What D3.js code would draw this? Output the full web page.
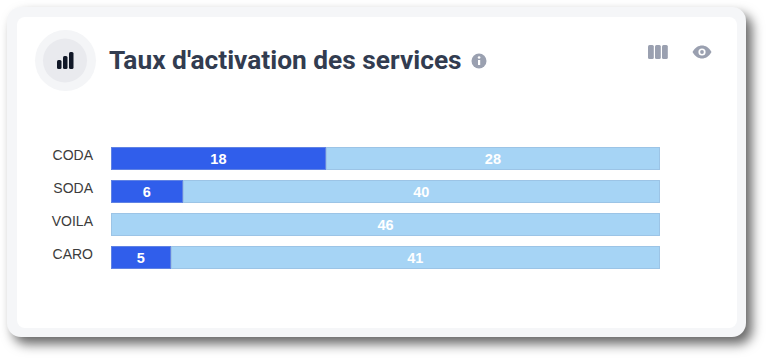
<!DOCTYPE html>
<html>
<head>
<meta charset="utf-8">
<script src="https://cdn.jsdelivr.net/npm/d3@7"></script>
<style>
  html, body { margin: 0; padding: 0; background: #fff; overflow: hidden; }
</style>
</head>
<body>
<div id="chart"></div>
<script>
const services = ["CODA", "SODA", "VOILA", "CARO"];
const activated = [18, 6, 0, 5];
const notActivated = [28, 40, 46, 41];

const wSvg = 769;
const hSvg = 360;

let svg = d3.select("#chart")
            .append("svg")
            .attr("width", wSvg)
            .attr("height", hSvg)
            .style("display", "block");

// card
svg.append("rect")
   .attr("x", 7).attr("y", 7)
   .attr("width", 739).attr("height", 330)
   .attr("rx", 14)
   .attr("fill", "#f5f6f8")
   .style("filter", "drop-shadow(6px 7px 6px rgba(0,0,0,0.6))");

svg.append("rect")
   .attr("x", 17).attr("y", 17)
   .attr("width", 720).attr("height", 311)
   .attr("rx", 8)
   .attr("fill", "#fff");

// round icon
svg.append("circle").attr("cx", 65.5).attr("cy", 60.5).attr("r", 30.5).attr("fill", "#f4f5f7");
svg.append("circle").attr("cx", 65).attr("cy", 60.5).attr("r", 22).attr("fill", "#e9eaee");
[[57, 4.5, 9], [63, 4.5, 13], [69, 4.5, 17]].forEach(b => {
  svg.append("rect")
     .attr("x", b[0]).attr("y", 69 - b[2])
     .attr("width", b[1]).attr("height", b[2])
     .attr("rx", 1.5)
     .attr("fill", "#111827");
});

// title
svg.append("text")
   .attr("x", 109).attr("y", 69)
   .attr("font-family", "Roboto")
   .attr("font-weight", 700)
   .attr("font-size", 26.3)
   .attr("fill", "#323c50")
   .text("Taux d'activation des services");

// info icon
svg.append("circle").attr("cx", 479).attr("cy", 61).attr("r", 7.5).attr("fill", "#9aa0b0");
svg.append("rect").attr("x", 478).attr("y", 60).attr("width", 2.2).attr("height", 5).attr("fill", "#fff");
svg.append("circle").attr("cx", 479.1).attr("cy", 57.5).attr("r", 1.3).attr("fill", "#fff");

// columns icon
[648, 655, 662].forEach(x => {
  svg.append("rect")
     .attr("x", x).attr("y", 45)
     .attr("width", 5.8).attr("height", 14)
     .attr("rx", 1.5)
     .attr("fill", "#9aa0b0");
});

// eye icon
svg.append("path")
   .attr("d", "M692.5,52 C695,47.5 698.5,45.5 702,45.5 C705.5,45.5 709,47.5 711.5,52 C709,56.5 705.5,58.5 702,58.5 C698.5,58.5 695,56.5 692.5,52 Z")
   .attr("fill", "#9aa0b0");
svg.append("circle").attr("cx", 702).attr("cy", 52).attr("r", 3.6).attr("fill", "#fff");
svg.append("circle").attr("cx", 702).attr("cy", 52).attr("r", 1.9).attr("fill", "#9aa0b0");

// scales
let xScale = d3.scaleLinear([0, 46], [111, 660]);
let yScale = d3.scaleBand(services, [147, 269]).paddingInner(0.29).paddingOuter(0);

// axis labels
let yAxis = svg.append("g")
   .attr("transform", "translate(111, -3)")
   .call(d3.axisLeft(yScale).tickSize(0).tickPadding(18));
yAxis.select(".domain").remove();
yAxis.selectAll("text")
     .attr("font-family", "Liberation Sans")
     .attr("font-size", 14)
     .attr("fill", "#3c3c3c");

// stacked bars, inset by half a pixel so the 1px border stays sharp
services.forEach((s, i) => {
  const a = activated[i];
  const b = notActivated[i];
  const top = Math.round(yScale(s));

  svg.append("rect")
     .attr("x", Math.round(xScale(a)) + 0.5).attr("y", top + 0.5)
     .attr("width", Math.round(xScale(a + b)) - Math.round(xScale(a)) - 1).attr("height", 22)
     .attr("fill", "#a6d4f5")
     .attr("stroke", "#9cc4e6").attr("stroke-width", 1);

  if (a > 0) {
    svg.append("rect")
       .attr("x", xScale(0) + 0.5).attr("y", top + 0.5)
       .attr("width", Math.round(xScale(a)) - xScale(0) - 1).attr("height", 22)
       .attr("fill", "#305eeb")
       .attr("stroke", "#5f82e4").attr("stroke-width", 1);

    svg.append("text")
       .attr("x", (xScale(0) + xScale(a)) / 2)
       .attr("y", top + 17)
       .attr("text-anchor", "middle")
       .attr("font-family", "Liberation Sans")
       .attr("font-weight", 700)
       .attr("font-size", 14.5)
       .attr("fill", "#fff")
       .text(a);
  }

  svg.append("text")
     .attr("x", (xScale(a) + xScale(a + b)) / 2)
     .attr("y", top + 17)
     .attr("text-anchor", "middle")
     .attr("font-family", "Liberation Sans")
     .attr("font-weight", 700)
     .attr("font-size", 14.5)
     .attr("fill", "#fff")
     .text(b);
});
</script>
</body>
</html>
